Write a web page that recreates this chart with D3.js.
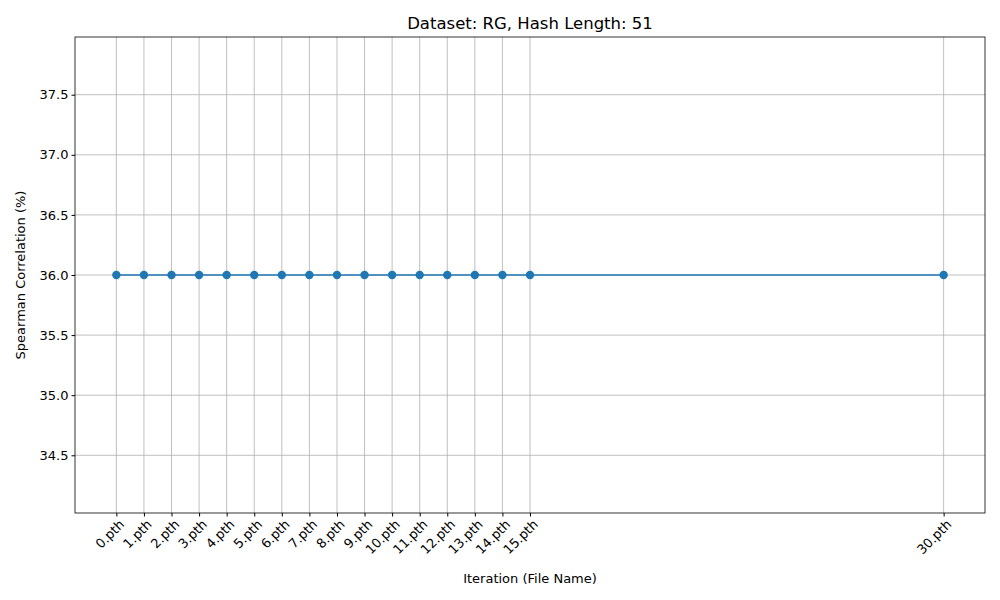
<!DOCTYPE html>
<html><head><meta charset="utf-8">
<script src="https://cdn.jsdelivr.net/npm/d3@7"></script>
<style>body{margin:0;background:#fff}text{font-family:"DejaVu Sans",sans-serif}</style>
</head><body><svg id="chart" width="1000" height="600"></svg>
<script>
const iterations = [0,1,2,3,4,5,6,7,8,9,10,11,12,13,14,15,30];
const fileNames = iterations.map(d => d + ".pth");
const correlation = [36,36,36,36,36,36,36,36,36,36,36,36,36,36,36,36,36];
const yTicks = [34.5,35.0,35.5,36.0,36.5,37.0,37.5];

const svg = d3.select("#chart");
const m = {left:75, right:985, top:37, bottom:513};
const x = d3.scaleLinear().domain([-1.5,31.5]).range([m.left,m.right]);
const y = d3.scaleLinear().domain([34.02,37.98]).range([m.bottom,m.top]);

// grid
svg.append("g").selectAll("line").data(iterations).enter().append("line")
  .attr("x1",d=>x(d)).attr("x2",d=>x(d)).attr("y1",m.top).attr("y2",m.bottom)
  .attr("stroke","#b0b0b0").attr("stroke-width",0.8);
svg.append("g").selectAll("line").data(yTicks).enter().append("line")
  .attr("x1",m.left).attr("x2",m.right).attr("y1",d=>y(d)).attr("y2",d=>y(d))
  .attr("stroke","#b0b0b0").attr("stroke-width",0.8);

const xAxis = svg.append("g").attr("transform",`translate(0,${m.bottom})`)
  .call(d3.axisBottom(x).tickValues(iterations).tickFormat((d,i)=>fileNames[i]).tickSizeOuter(0).tickSize(3.5));
xAxis.selectAll("text").attr("font-size",13).attr("fill","#000")
  .attr("text-anchor","end").attr("x",0).attr("y",0).attr("dy","0.35em")
  .attr("transform","translate(5,9) rotate(-45)");
const yAxis = svg.append("g").attr("transform",`translate(${m.left},0)`)
  .call(d3.axisLeft(y).tickValues(yTicks).tickFormat(d3.format(".1f")).tickSizeOuter(0).tickSize(3.5));
yAxis.selectAll("text").attr("font-size",13).attr("fill","#000");
svg.selectAll(".domain").remove();
svg.append("rect").attr("x",m.left).attr("y",m.top).attr("width",m.right-m.left).attr("height",m.bottom-m.top)
  .attr("fill","none").attr("stroke","#000").attr("stroke-width",0.8);

const pts = iterations.map((d,i)=>[d,correlation[i]]);
svg.append("path").datum(pts).attr("fill","none").attr("stroke","#1f77b4").attr("stroke-width",1.5)
  .attr("d",d3.line().x(d=>x(d[0])).y(d=>y(d[1])));
svg.append("g").selectAll("circle").data(pts).enter().append("circle")
  .attr("cx",d=>x(d[0])).attr("cy",d=>y(d[1])).attr("r",4.2).attr("fill","#1f77b4");

svg.append("text").attr("x",(m.left+m.right)/2).attr("y",29).attr("text-anchor","middle")
  .attr("font-size",16.5).text("Dataset: RG, Hash Length: 51");
svg.append("text").attr("x",(m.left+m.right)/2).attr("y",583).attr("text-anchor","middle")
  .attr("font-size",13).text("Iteration (File Name)");
svg.append("text").attr("transform",`translate(25,${(m.top+m.bottom)/2}) rotate(-90)`).attr("text-anchor","middle")
  .attr("font-size",13).text("Spearman Correlation (%)");
</script></body></html>
